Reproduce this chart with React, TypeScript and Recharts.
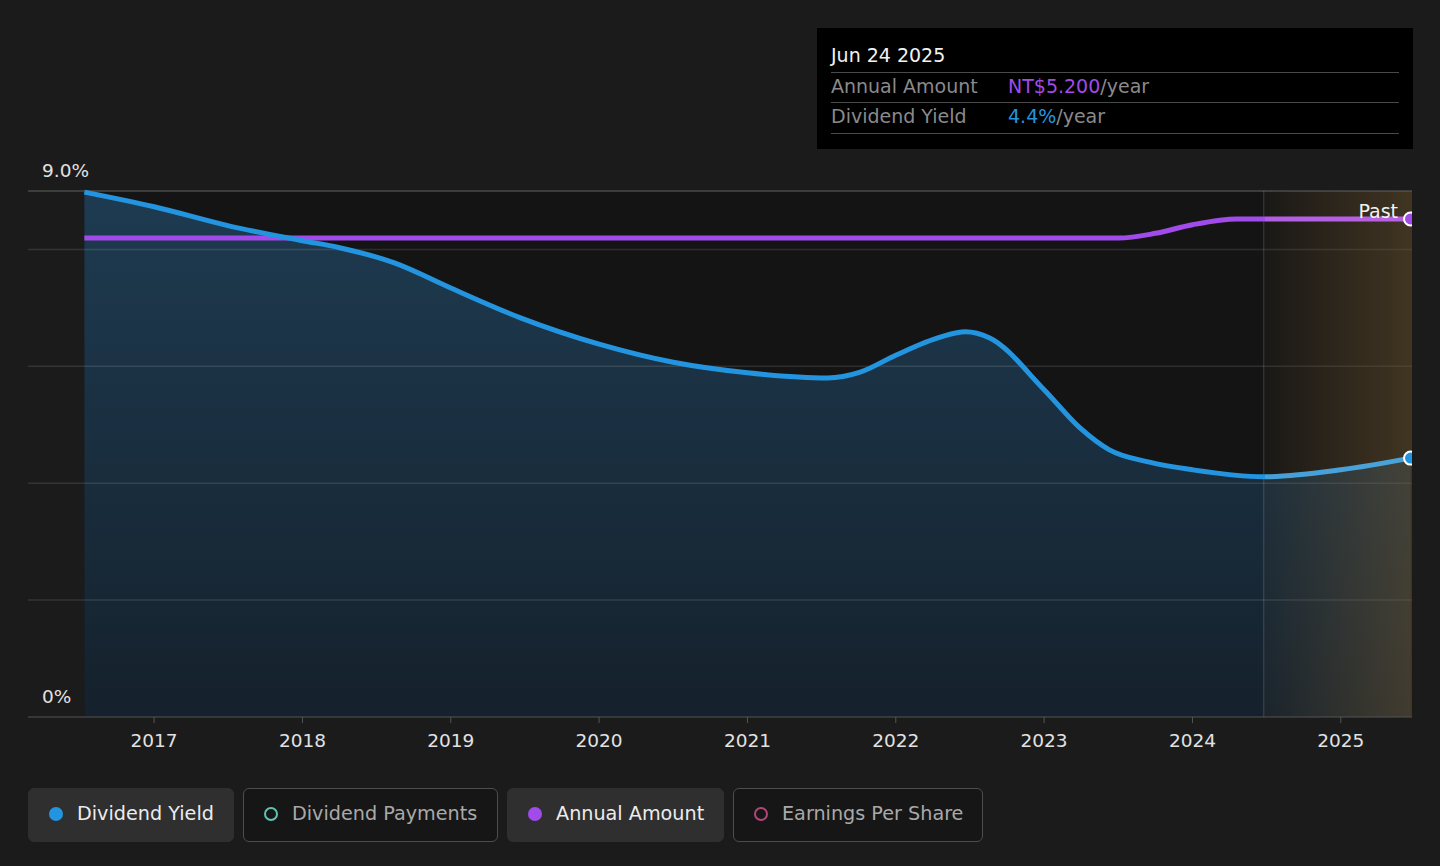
import {
  ComposedChart,
  Area,
  Line,
  XAxis,
  YAxis,
  ReferenceArea,
  ReferenceLine,
} from "recharts";

// Dividend yield (%), x in fractional years
const YIELD_X = [
  2016.53, 2017.0, 2017.51, 2018.0, 2018.25, 2018.62, 2019.0, 2019.47, 2020.0, 2020.5,
  2021.0, 2021.54, 2021.76, 2022.0, 2022.3, 2022.47, 2022.63, 2023.0, 2023.24, 2023.44,
  2023.71, 2024.0, 2024.48, 2025.0, 2025.47,
];
const YIELD_PCT = [
  8.98, 8.73, 8.4, 8.15, 8.03, 7.77, 7.34, 6.83, 6.38, 6.07,
  5.89, 5.8, 5.9, 6.19, 6.5, 6.59, 6.49, 5.6, 4.95, 4.57,
  4.36, 4.23, 4.11, 4.23, 4.43,
];

// Annual amount (NT$/year)
const AMOUNT_X = [2016.53, 2018.0, 2020.0, 2022.0, 2023.5, 2023.75, 2024.0, 2024.3, 2024.8, 2025.47];
const AMOUNT_NT = [5.0, 5.0, 5.0, 5.0, 5.0, 5.05, 5.14, 5.2, 5.2, 5.2];

const YEAR_TICKS = [2017, 2018, 2019, 2020, 2021, 2022, 2023, 2024, 2025];
const PCT_LABELS = [
  { v: 0, text: "0%" },
  { v: 9, text: "9.0%" },
];
const GRID_PCT = [2, 4, 6, 8];
const PAST_START = 2024.48;
const X_MIN = 2016.15;
const X_MAX = 2025.48;

const LEGEND = [
  { label: "Dividend Yield", color: "#2394df", active: true },
  { label: "Dividend Payments", color: "#5ec4b0", active: false },
  { label: "Annual Amount", color: "#a04bea", active: true },
  { label: "Earnings Per Share", color: "#b0467a", active: false },
];
const LEGEND_W = [206, 255, 217, 250];

const yieldRows = YIELD_X.map((x, i) => ({ x, pct: YIELD_PCT[i] }));
const amountRows = AMOUNT_X.map((x, i) => ({ x, amt: AMOUNT_NT[i] }));

const FONT = "'DejaVu Sans', sans-serif";

function lastDot(n: number, fill: string) {
  return (p: any) =>
    p.index === n - 1 ? (
      <circle key="end" cx={p.cx} cy={p.cy} r={6.5} fill={fill} stroke="#fff" strokeWidth={2} />
    ) : (
      <g key={p.index} />
    );
}

// y label sits just above its gridline, at the left of the plot
function pctLabel(text: string) {
  return (props: any) => {
    const vb = props.viewBox || {};
    return (
      <text x={(vb.x ?? 28) + 14} y={(vb.y ?? 0) - 14} fill="#e2e2e2" fontSize={18.5} fontFamily={FONT}>
        {text}
      </text>
    );
  };
}

export default function App() {
  return (
    <div
      style={{
        position: "absolute",
        left: 0,
        top: 0,
        width: 1440,
        height: 866,
        background: "#1b1b1b",
        fontFamily: FONT,
        overflow: "hidden",
      }}
    >
      <ComposedChart width={1440} height={760} margin={{ top: 191, right: 28, bottom: 3, left: 28 }}>
        <defs>
          <linearGradient id="yieldFill" x1="0" y1="0" x2="0" y2="1">
            <stop offset="0%" stopColor="#1e3b51" />
            <stop offset="100%" stopColor="#15212c" />
          </linearGradient>
          <linearGradient id="pastFill" x1="0" y1="0" x2="1" y2="0">
            <stop offset="0%" stopColor="rgb(120,92,50)" stopOpacity={0.06} />
            <stop offset="100%" stopColor="rgb(120,92,50)" stopOpacity={0.45} />
          </linearGradient>
          <linearGradient id="blueStroke" x1="0" y1="0" x2="1" y2="0">
            <stop offset="89%" stopColor="#2394df" />
            <stop offset="89%" stopColor="#45a0d8" />
            <stop offset="100%" stopColor="#4aa3d8" />
          </linearGradient>
          <linearGradient id="purpleStroke" x1="0" y1="0" x2="1" y2="0">
            <stop offset="89%" stopColor="#a04bea" />
            <stop offset="89%" stopColor="#b35ee2" />
            <stop offset="100%" stopColor="#b862e0" />
          </linearGradient>
        </defs>

        <XAxis
          type="number"
          dataKey="x"
          domain={[X_MIN, X_MAX]}
          ticks={YEAR_TICKS}
          allowDataOverflow
          stroke="#555"
          tickLine={{ stroke: "#555" }}
          tickSize={6}
          tickMargin={11}
          tick={{ fill: "#e2e2e2", fontSize: 18.5, fontFamily: FONT }}
          height={40}
        />
        <YAxis yAxisId="pct" type="number" domain={[0, 9]} hide />
        <YAxis yAxisId="amt" type="number" domain={[0, 5.492]} hide />

        <ReferenceArea
          yAxisId="pct"
          x1={YIELD_X[0]}
          x2={X_MAX}
          y1={0}
          y2={9}
          fill="#141414"
          fillOpacity={1}
          stroke="none"
          zIndex={50}
        />

        <Area
          yAxisId="pct"
          data={yieldRows}
          dataKey="pct"
          type="monotone"
          stroke="none"
          fill="url(#yieldFill)"
          fillOpacity={1}
          isAnimationActive={false}
          dot={false}
          activeDot={false}
          zIndex={100}
        />

        {GRID_PCT.map((g) => (
          <ReferenceLine
            key={g}
            yAxisId="pct"
            y={g}
            stroke="rgba(255,255,255,0.11)"
            strokeWidth={1.5}
            zIndex={150}
          />
        ))}
        {PCT_LABELS.map((l) => (
          <ReferenceLine
            key={l.text}
            yAxisId="pct"
            y={l.v}
            stroke={l.v === 9 ? "#4a4a4a" : "none"}
            strokeWidth={1.5}
            zIndex={150}
            label={pctLabel(l.text)}
          />
        ))}

        <ReferenceArea
          yAxisId="pct"
          x1={PAST_START}
          x2={X_MAX}
          y1={0}
          y2={9}
          fill="url(#pastFill)"
          fillOpacity={1}
          stroke="none"
          zIndex={200}
          label={{
            value: "Past",
            position: "insideTopRight",
            offset: 14,
            fill: "#f2f2f2",
            fontSize: 19,
            fontFamily: FONT,
          }}
        />
        <ReferenceLine
          yAxisId="pct"
          x={PAST_START}
          stroke="rgba(255,255,255,0.12)"
          strokeWidth={1.5}
          zIndex={210}
        />

        <Line
          yAxisId="amt"
          data={amountRows}
          dataKey="amt"
          type="monotone"
          stroke="url(#purpleStroke)"
          strokeWidth={5}
          dot={lastDot(amountRows.length, "#a04bea")}
          activeDot={false}
          isAnimationActive={false}
          zIndex={400}
        />
        <Line
          yAxisId="pct"
          data={yieldRows}
          dataKey="pct"
          type="monotone"
          stroke="url(#blueStroke)"
          strokeWidth={5}
          dot={lastDot(yieldRows.length, "#2394df")}
          activeDot={false}
          isAnimationActive={false}
          zIndex={410}
        />
      </ComposedChart>

      {/* static tooltip box */}
      <div
        style={{
          position: "absolute",
          left: 817,
          top: 28,
          width: 596,
          boxSizing: "border-box",
          background: "#000",
          padding: "14px 14px 15.5px 14px",
          fontSize: 19,
        }}
      >
        {[
          { k: "", v: "Jun 24 2025", c: "#f2f2f2", s: "" },
          { k: "Annual Amount", v: "NT$5.200", c: "#a04bea", s: "/year" },
          { k: "Dividend Yield", v: "4.4%", c: "#2394df", s: "/year" },
        ].map((r, i) => (
          <div
            key={i}
            style={{
              height: 30.5,
              lineHeight: "26px",
              boxSizing: "border-box",
              borderBottom: "1.5px solid #4a4a4a",
              display: "flex",
              whiteSpace: "nowrap",
            }}
          >
            {r.k ? (
              <>
                <span style={{ width: 177, color: "#8a8a8a" }}>{r.k}</span>
                <span style={{ color: r.c }}>{r.v}</span>
                <span style={{ color: "#8a8a8a" }}>{r.s}</span>
              </>
            ) : (
              <span style={{ color: r.c }}>{r.v}</span>
            )}
          </div>
        ))}
      </div>

      {/* legend */}
      <div style={{ position: "absolute", left: 28, top: 788, display: "flex", gap: 9 }}>
        {LEGEND.map((l, i) => (
          <div
            key={l.label}
            style={{
              width: LEGEND_W[i],
              height: 54,
              boxSizing: "border-box",
              borderRadius: 6,
              background: l.active ? "#2f2f2f" : "#161616",
              border: l.active ? "1.5px solid #2f2f2f" : "1.5px solid #4d4d4d",
              display: "flex",
              alignItems: "center",
              padding: "0 0 3px 20px",
              fontSize: 19.2,
              color: l.active ? "#ececec" : "#a9a9a9",
              whiteSpace: "nowrap",
            }}
          >
            <span
              style={{
                width: 14,
                height: 14,
                boxSizing: "border-box",
                borderRadius: "50%",
                background: l.active ? l.color : "transparent",
                border: l.active ? "none" : `2.5px solid ${l.color}`,
                marginRight: 14,
                display: "inline-block",
              }}
            />
            {l.label}
          </div>
        ))}
      </div>
    </div>
  );
}
